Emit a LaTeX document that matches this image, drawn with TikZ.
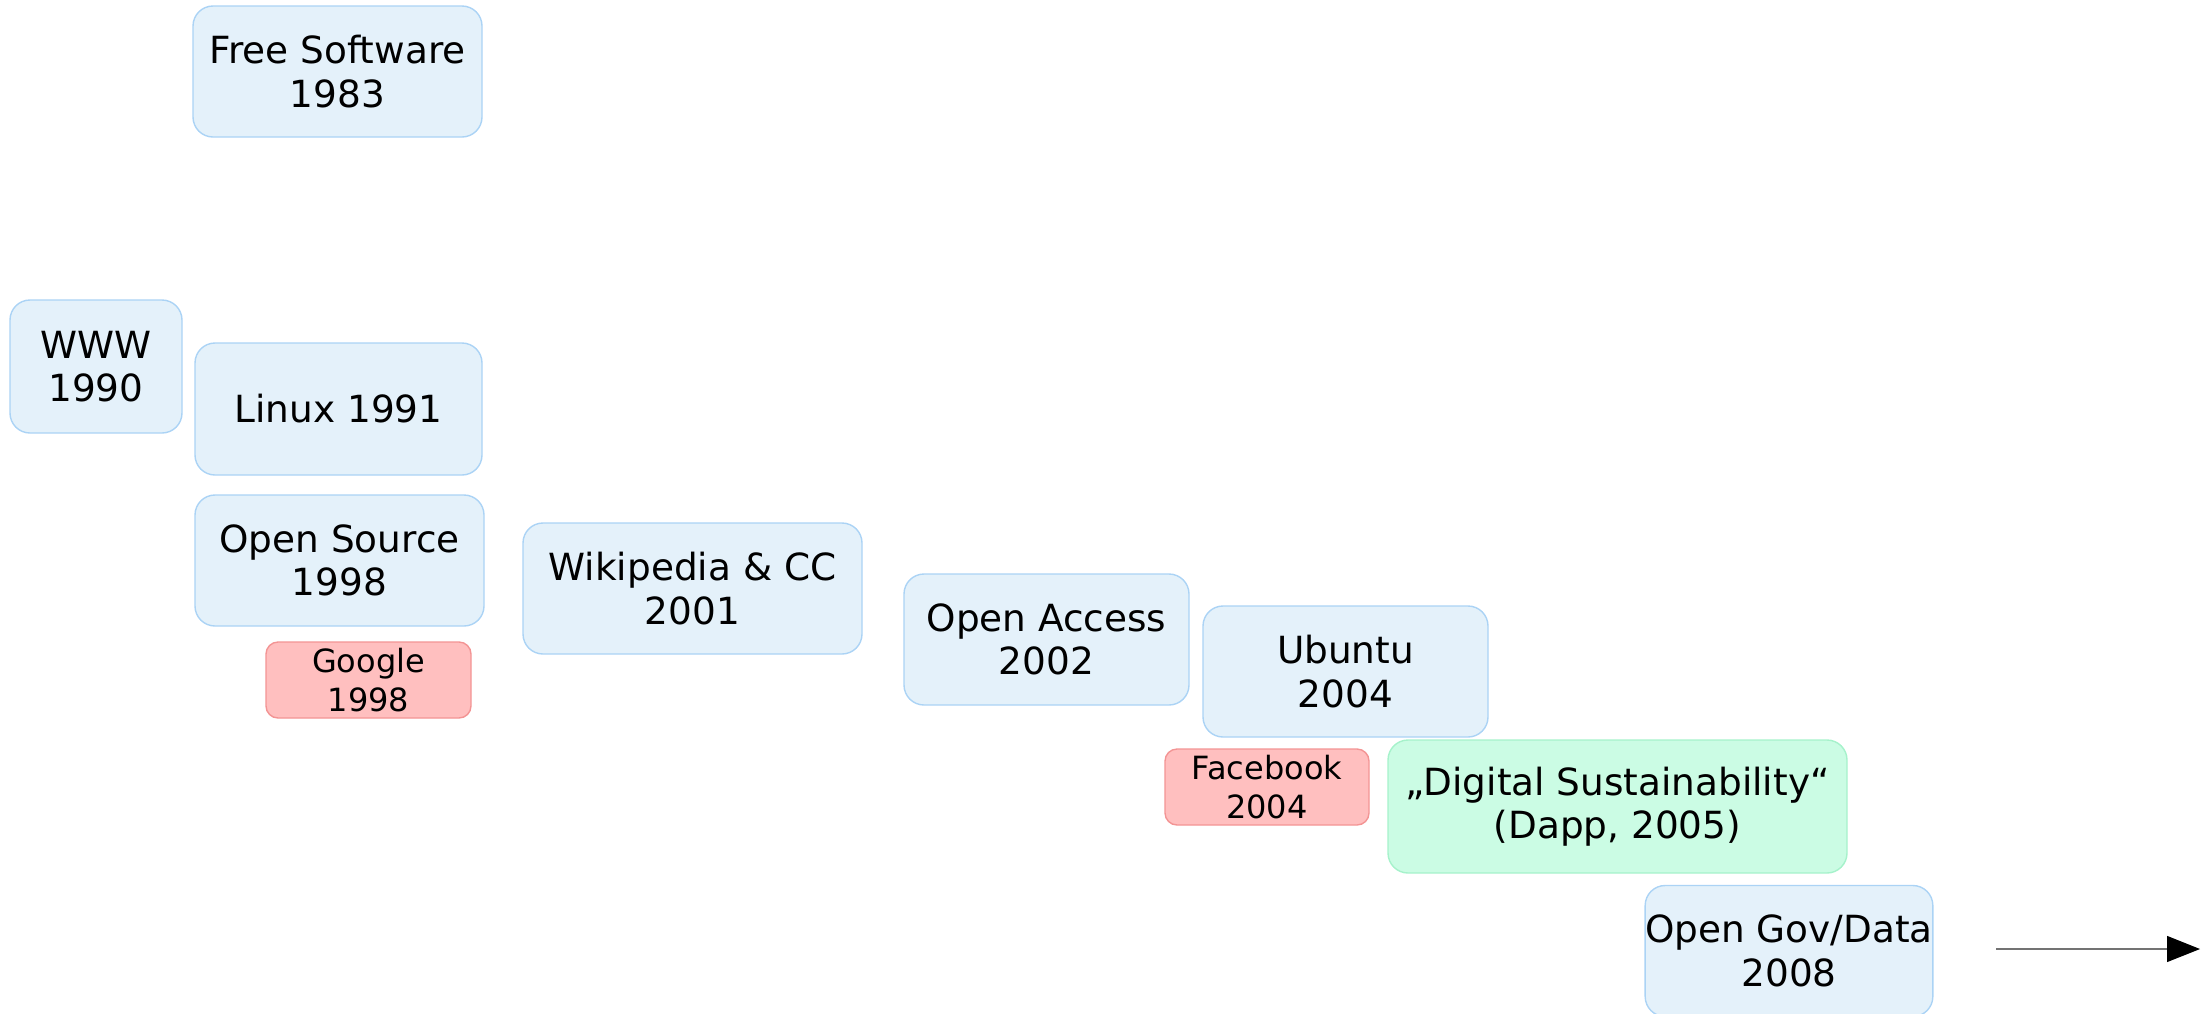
\documentclass[tikz,border=0pt]{standalone}
\usepackage{fontspec}
\setmainfont{DejaVu Sans}
\usetikzlibrary{arrows.meta}
\definecolor{bluefill}{HTML}{E4F1FA}
\definecolor{blueline}{HTML}{ABD3F5}
\definecolor{redfill}{HTML}{FFBFBF}
\definecolor{redline}{HTML}{F39494}
\definecolor{greenfill}{HTML}{CBFCE4}
\definecolor{greenline}{HTML}{A6F2CB}
\tikzset{
  evt/.style={draw=blueline, fill=bluefill, line width=0.7pt, rounded corners=10pt,
    align=center, inner sep=0pt, font=\fontsize{18.7}{21.8}\selectfont},
  comm/.style={draw=redline, fill=redfill, line width=0.7pt, rounded corners=6pt,
    align=center, inner sep=0pt, font=\fontsize{16}{19.2}\selectfont},
  concept/.style={draw=greenline, fill=greenfill, line width=0.7pt, rounded corners=10pt,
    align=center, inner sep=0pt, font=\fontsize{18.7}{21.8}\selectfont},
  timearrow/.style={draw=black!55, line width=0.6pt, -{Triangle[length=16.5pt,width=13pt,color=black]}}
}
\begin{document}
\begin{tikzpicture}[x=0.5pt,y=-0.5pt]
\useasboundingbox (0,0) rectangle (2211,1013);
\node[evt, minimum width=144.5pt, minimum height=65.5pt] (free) at (337.5,71.5) {Free Software\\1983};
\node[evt, minimum width=86pt, minimum height=66.5pt] (www) at (96,366.5) {WWW\\1990};
\node[evt, minimum width=143.5pt, minimum height=66pt] (linux) at (338.5,409) {Linux 1991};
\node[evt, minimum width=144.5pt, minimum height=65.5pt] (os) at (339.5,560.5) {Open Source\\1998};
\node[comm, minimum width=102.5pt, minimum height=38pt] (google) at (368.5,680) {Google\\1998};
\node[evt, minimum width=169.5pt, minimum height=65.5pt] (wiki) at (692.5,588.5) {Wikipedia \& CC\\2001};
\node[evt, minimum width=142.5pt, minimum height=65.5pt] (oa) at (1046.5,639.5) {Open Access\\2002};
\node[evt, minimum width=142.5pt, minimum height=65.5pt] (ubuntu) at (1345.5,671.5) {Ubuntu\\2004};
\node[comm, minimum width=102pt, minimum height=38pt] (fb) at (1267,787) {Facebook\\2004};
\node[concept, minimum width=229.5pt, minimum height=66.5pt] (ds) at (1617.5,806.5) {„Digital Sustainability“\\(Dapp, 2005)};
\node[evt, minimum width=143pt, minimum height=65.5pt] (gov) at (1789,951) {Open Gov/Data\\2008};
\coordinate (astart) at (1996,949);
\coordinate (aend) at (2200,949);
\draw[timearrow] (astart) -- (aend);
\end{tikzpicture}
\end{document}
